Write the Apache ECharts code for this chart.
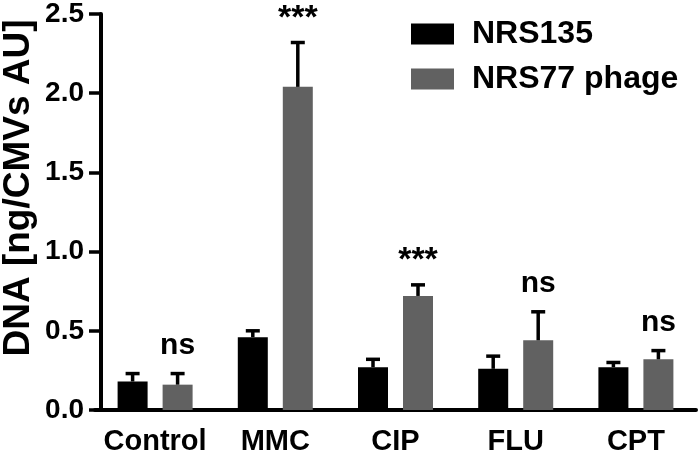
<!DOCTYPE html>
<html>
<head>
<meta charset="utf-8">
<script src="https://cdn.jsdelivr.net/npm/echarts@6/dist/echarts.min.js"></script>
<style>
  html, body { margin: 0; padding: 0; background: #fff; }
  #chart { width: 700px; height: 458px; }
</style>
</head>
<body>
<div id="chart"></div>
<script>
// data
var categories = ['Control', 'MMC', 'CIP', 'FLU', 'CPT'];
var nrs135 = [0.18, 0.46, 0.27, 0.26, 0.27];
var nrs135Err = [0.05, 0.04, 0.05, 0.08, 0.03];
var phage = [0.16, 2.04, 0.72, 0.44, 0.32];
var phageErr = [0.07, 0.28, 0.07, 0.18, 0.055];
var signif = ['ns', '***', '***', 'ns', 'ns'];
var yTicks = [0, 0.5, 1.0, 1.5, 2.0, 2.5];

var FONT = '"Liberation Sans", Arial, sans-serif';
var GREY = '#616161';
var BAR_W = 30, BAR_GAP = 15;

var chart = echarts.init(document.getElementById('chart'));

// error bars (upper only) + optional significance text
function errorSeries(name, values, errs, side, labels) {
  var data = values.map(function (v, i) {
    return [i, v, v + errs[i], labels ? labels[i] : ''];
  });
  return {
    type: 'custom',
    name: name + ' err',
    silent: true,
    z: 5,
    data: data,
    renderItem: function (params, api) {
      var dx = side * (BAR_W + BAR_GAP) / 2;
      var base = api.coord([api.value(0), api.value(1)]);
      var top = api.coord([api.value(0), api.value(2)]);
      var x = base[0] + dx;
      var children = [
        { type: 'line', shape: { x1: x, y1: base[1], x2: x, y2: top[1] },
          style: { stroke: '#000', lineWidth: 3.5 } },
        { type: 'line', shape: { x1: x - 7, y1: top[1], x2: x + 7, y2: top[1] },
          style: { stroke: '#000', lineWidth: 3.5 } }
      ];
      var txt = data[params.dataIndex][3];
      if (txt) {
        var stars = txt !== 'ns';
        children.push({
          type: 'text',
          style: {
            text: txt, x: x, y: top[1] - (stars ? 7 : 13),
            align: 'center', verticalAlign: 'bottom',
            font: 'bold ' + (stars ? 34 : 30) + 'px ' + FONT, fill: '#000'
          }
        });
      }
      return { type: 'group', children: children };
    }
  };
}

chart.setOption({
  animation: false,
  grid: { left: 95, right: 4, top: 14, bottom: 48 },
  legend: {
    data: ['NRS135', 'NRS77 phage'],
    orient: 'vertical',
    left: 406, top: 13,
    icon: 'rect',
    itemWidth: 43, itemHeight: 21, itemGap: 13,
    textStyle: { fontFamily: FONT, fontWeight: 'bold', fontSize: 32, color: '#000', padding: [0, 0, 0, 13] }
  },
  xAxis: {
    type: 'category',
    data: categories,
    axisLine: { lineStyle: { color: '#000', width: 4 } },
    axisTick: { alignWithLabel: true, length: 11, lineStyle: { color: '#000', width: 3.5 } },
    axisLabel: { interval: 0, color: '#000', fontFamily: FONT, fontWeight: 'bold', fontSize: 29, margin: 17 }
  },
  yAxis: {
    type: 'value',
    min: 0, max: 2.5, interval: 0.5,
    offset: -6,
    splitLine: { show: false },
    axisLine: { show: true, lineStyle: { color: '#000', width: 4 } },
    axisTick: { show: true, length: 12, lineStyle: { color: '#000', width: 3.5 } },
    axisLabel: {
      color: '#000', fontFamily: FONT, fontWeight: 'bold', fontSize: 28, margin: 17,
      formatter: function (v) { return yTicks.indexOf(v) >= 0 ? v.toFixed(1) : ''; }
    }
  },
  graphic: [{
    type: 'text',
    x: 19, y: 188,
    rotation: Math.PI / 2,
    style: {
      text: 'DNA [ng/CMVs AU]',
      align: 'center', verticalAlign: 'middle',
      font: 'bold 37px ' + FONT, fill: '#000'
    }
  }],
  series: [
    { name: 'NRS135', type: 'bar', data: nrs135, barWidth: BAR_W, barGap: '50%',
      itemStyle: { color: '#000' } },
    { name: 'NRS77 phage', type: 'bar', data: phage, barWidth: BAR_W, barGap: '50%',
      itemStyle: { color: GREY } },
    errorSeries('NRS135', nrs135, nrs135Err, -1, null),
    errorSeries('NRS77 phage', phage, phageErr, 1, signif)
  ]
});
</script>
</body>
</html>
